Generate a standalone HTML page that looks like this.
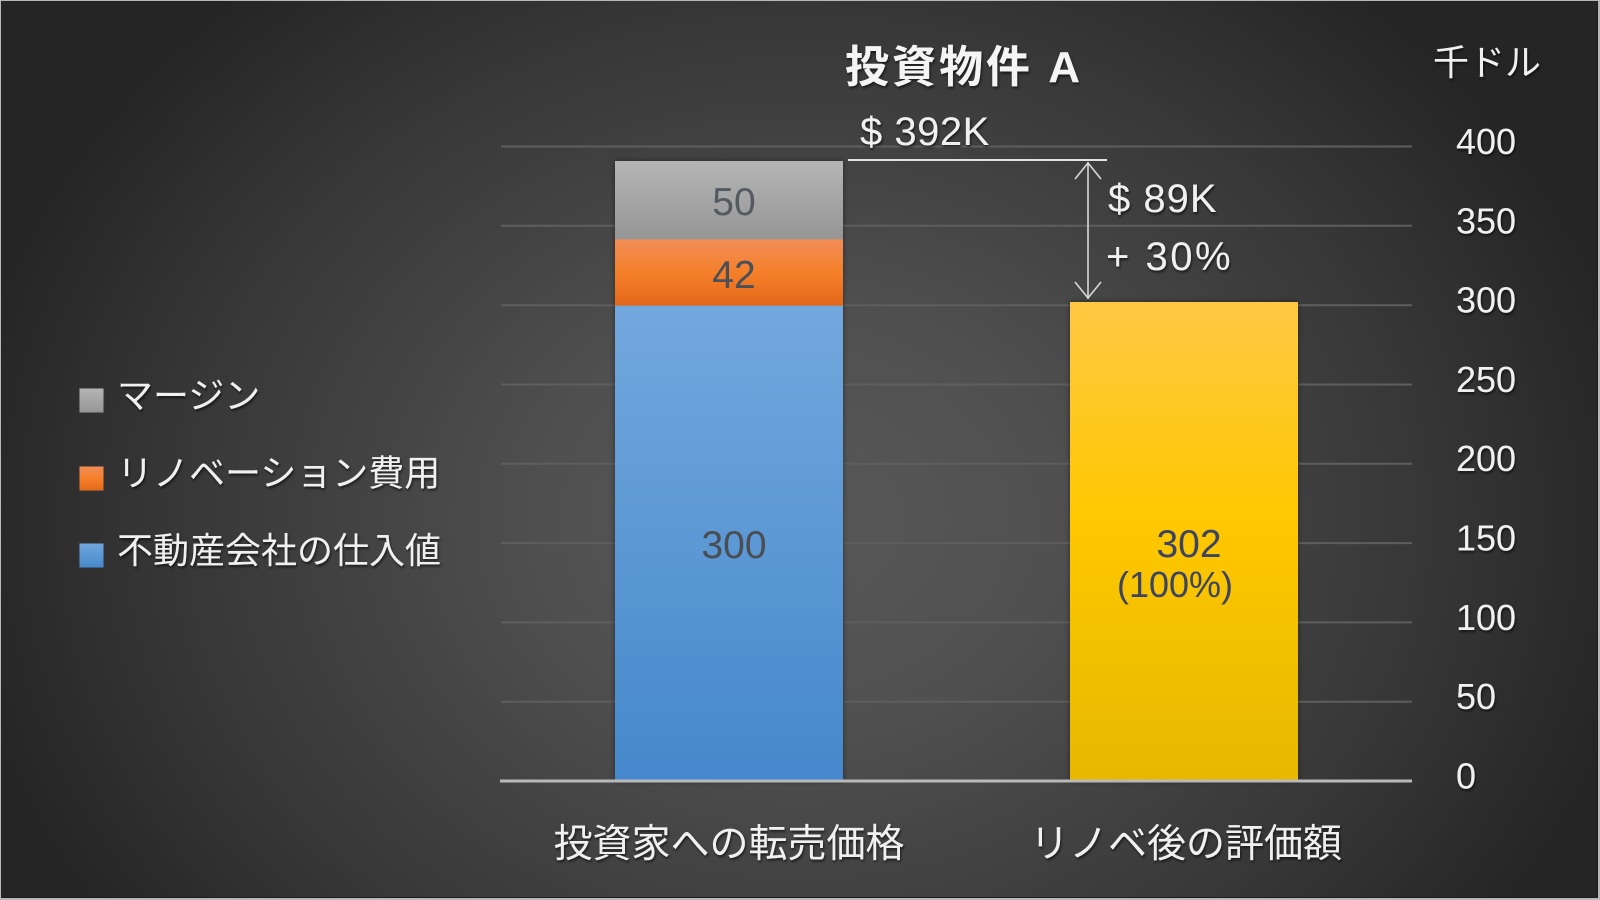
<!DOCTYPE html>
<html><head><meta charset="utf-8"><style>
html,body{margin:0;padding:0;background:#bbb;}
svg{display:block;}
text{font-family:"Liberation Sans","Noto Sans CJK JP",sans-serif;}
</style></head><body>
<svg width="1600" height="900" viewBox="0 0 1600 900" xmlns="http://www.w3.org/2000/svg">
<defs>
<radialGradient id="bg" gradientUnits="userSpaceOnUse" cx="800" cy="520" r="850" gradientTransform="translate(800 520) scale(1 0.82) translate(-800 -520)">
<stop offset="0" stop-color="#585858"/>
<stop offset="0.3" stop-color="#505050"/>
<stop offset="0.5" stop-color="#444444"/>
<stop offset="0.75" stop-color="#363636"/>
<stop offset="1" stop-color="#252525"/>
</radialGradient>
<linearGradient id="gGray" x1="0" y1="0" x2="0" y2="1"><stop offset="0" stop-color="#b5b5b5"/><stop offset="1" stop-color="#959595"/></linearGradient>
<linearGradient id="gOr" x1="0" y1="0" x2="0" y2="1"><stop offset="0" stop-color="#f18d58"/><stop offset="0.5" stop-color="#f5802a"/><stop offset="1" stop-color="#e3671a"/></linearGradient>
<linearGradient id="gBl" x1="0" y1="0" x2="0" y2="1"><stop offset="0" stop-color="#72a8de"/><stop offset="1" stop-color="#4588cb"/></linearGradient>
<linearGradient id="gYe" x1="0" y1="0" x2="0" y2="1"><stop offset="0" stop-color="#ffc844"/><stop offset="0.45" stop-color="#ffc800"/><stop offset="1" stop-color="#e6b800"/></linearGradient>
<filter id="sh" x="-10%" y="-10%" width="120%" height="130%"><feDropShadow dx="1" dy="2" stdDeviation="1.2" flood-color="#000" flood-opacity="0.6"/></filter>
<filter id="bsh" x="-10%" y="-5%" width="120%" height="110%"><feDropShadow dx="0" dy="0" stdDeviation="3" flood-color="#000" flood-opacity="0.45"/></filter>
</defs>
<rect x="0" y="0" width="1600" height="900" fill="#b8b8b8"/>
<rect x="1" y="1" width="1597" height="897" fill="#1e1e1e"/>
<rect x="1" y="1" width="1596" height="896" fill="url(#bg)"/>

<!-- gridlines -->
<g stroke="#5e5e5e" stroke-width="2">
<line x1="501" y1="146.5" x2="1412" y2="146.5"/>
<line x1="501" y1="225.8" x2="1412" y2="225.8"/>
<line x1="501" y1="305.2" x2="1412" y2="305.2"/>
<line x1="501" y1="384.5" x2="1412" y2="384.5"/>
<line x1="501" y1="463.8" x2="1412" y2="463.8"/>
<line x1="501" y1="543.1" x2="1412" y2="543.1"/>
<line x1="501" y1="622.4" x2="1412" y2="622.4"/>
<line x1="501" y1="701.7" x2="1412" y2="701.7"/>
</g>

<!-- bars -->
<g filter="url(#bsh)">
<rect x="615" y="161" width="228" height="620" fill="#888"/>
<rect x="1070" y="302" width="228" height="479" fill="#e6b800"/>
</g>
<rect x="615" y="161" width="228" height="78.5" fill="url(#gGray)"/>
<rect x="615" y="239.3" width="228" height="66.4" fill="url(#gOr)"/>
<rect x="615" y="305.7" width="228" height="475.3" fill="url(#gBl)"/>
<rect x="1070" y="302" width="228" height="479" fill="url(#gYe)"/>

<!-- baseline -->
<line x1="500" y1="781" x2="1412" y2="781" stroke="#b9b9b9" stroke-width="3"/>

<!-- data labels -->
<g font-size="39" text-anchor="middle">
<text x="734" y="215" fill="#555a61">50</text>
<text x="734" y="288" fill="#4a4f58">42</text>
<text x="734" y="558" fill="#4a4d52">300</text>
<text x="1189" y="557" fill="#3d4463">302</text>
<text x="1175" y="597" fill="#3d4463" font-size="36">(100%)</text>
</g>

<!-- annotations -->
<line x1="848" y1="160" x2="1107" y2="160" stroke="#e2e2e2" stroke-width="2"/>
<g stroke="#d8d8d8" stroke-width="1.6" fill="none">
<line x1="1088" y1="162" x2="1088" y2="299"/>
<polyline points="1075,179 1088,163 1101,179"/>
<polyline points="1075,282 1088,298 1101,282"/>
</g>
<g fill="#f0f0f0" font-size="40" filter="url(#sh)">
<text x="860" y="145" letter-spacing="0.5">$ 392K</text>
<text x="1108" y="212" letter-spacing="1">$ 89K</text>
<text x="1106" y="270" letter-spacing="2.5">+ 30%</text>
</g>

<!-- title -->
<text x="845" y="82" font-size="44" font-weight="bold" fill="#f4f4f4" letter-spacing="3" filter="url(#sh)">投資物件 A</text>
<text x="1433" y="75" font-size="36" fill="#f0f0f0" filter="url(#sh)">千ドル</text>

<!-- y axis labels -->
<g font-size="36" fill="#f0f0f0" filter="url(#sh)">
<text x="1456" y="154">400</text>
<text x="1456" y="233.3">350</text>
<text x="1456" y="312.6">300</text>
<text x="1456" y="391.9">250</text>
<text x="1456" y="471.2">200</text>
<text x="1456" y="550.5">150</text>
<text x="1456" y="629.8">100</text>
<text x="1456" y="709.1">50</text>
<text x="1456" y="788.4">0</text>
</g>

<!-- x axis labels -->
<g font-size="39" fill="#f0f0f0" text-anchor="middle" filter="url(#sh)">
<text x="729" y="857">投資家への転売価格</text>
<text x="1186" y="857">リノベ後の評価額</text>
</g>

<!-- legend -->
<rect x="79" y="388" width="25" height="25" fill="url(#gGray)" stroke="#333" stroke-width="1"/>
<rect x="79" y="466" width="25" height="25" fill="url(#gOr)" stroke="#333" stroke-width="1"/>
<rect x="79" y="543" width="25" height="25" fill="url(#gBl)" stroke="#333" stroke-width="1"/>
<g font-size="36" fill="#f0f0f0" filter="url(#sh)">
<text x="117" y="408">マージン</text>
<text x="117" y="485.5">リノベーション費用</text>
<text x="117" y="563">不動産会社の仕入値</text>
</g>
</svg>
</body></html>
